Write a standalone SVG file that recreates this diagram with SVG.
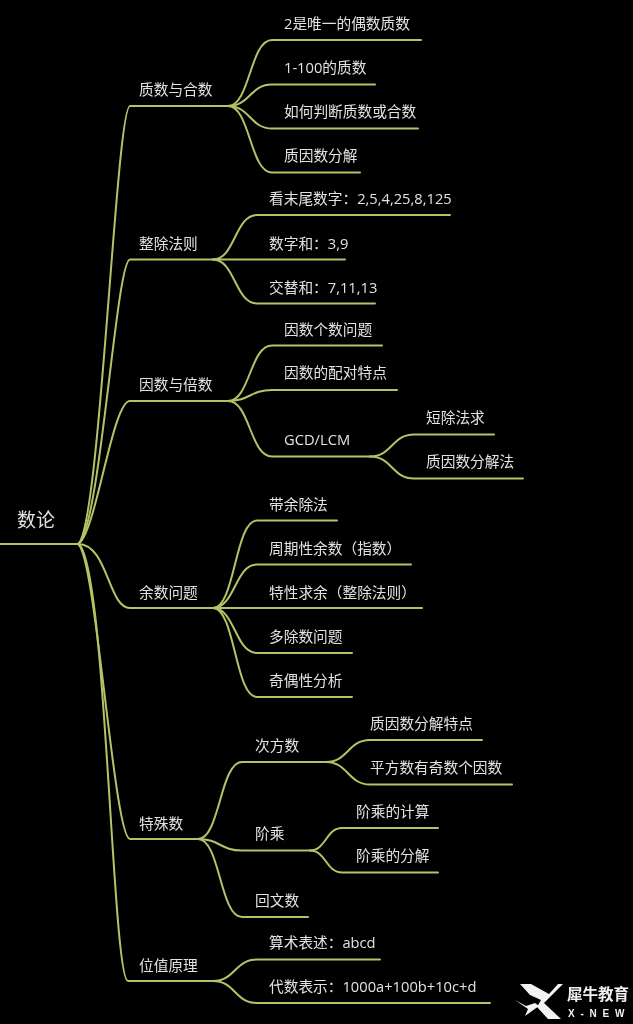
<svg xmlns="http://www.w3.org/2000/svg" width="633" height="1024" viewBox="0 0 633 1024">
<style>
.l{fill:none;stroke:#b4c368;stroke-width:2;stroke-linecap:round}
.t{font-family:"Open Sans","Noto Sans CJK SC",sans-serif;font-size:14.7px;fill:#e2e2e2}
</style>
<defs><filter id="b" x="-5%" y="-5%" width="110%" height="110%"><feGaussianBlur stdDeviation="0.45"/></filter></defs>
<rect width="633" height="1024" fill="#000"/>
<g filter="url(#b)">
<g id="connectors">
<path class="l" d="M0 544H78"/>
<path class="l" d="M78 544C100 530 116 106 130 106H228"/>
<path class="l" d="M78 544C100 532 116 259.500 130 259.500H213"/>
<path class="l" d="M78 544C96 535 112 401 130 401H228"/>
<path class="l" d="M78 544C108 544 108 608 130 608H213"/>
<path class="l" d="M78 544C96 556 114 839 130 839H198"/>
<path class="l" d="M78 544C106 556 112 981 128 981H213"/>
<path class="l" d="M228 106C250 106 250 40 272 40H421"/>
<path class="l" d="M228 106C250 106 250 84.500 272 84.500H375"/>
<path class="l" d="M228 106C250 106 250 128.500 272 128.500H418"/>
<path class="l" d="M228 106C250 106 250 172.500 272 172.500H360"/>
<path class="l" d="M213 259.500C235 259.500 235 215 257 215H450"/>
<path class="l" d="M213 259.500H345"/>
<path class="l" d="M213 259.500C235 259.500 235 303.500 257 303.500H375"/>
<path class="l" d="M228 401C250 401 250 345.500 272 345.500H382"/>
<path class="l" d="M228 401C250 401 250 390 272 390H397"/>
<path class="l" d="M228 401C250 401 250 456.500 272 456.500H370"/>
<path class="l" d="M370 456.500C392 456.500 392 434.500 414 434.500H494"/>
<path class="l" d="M370 456.500C392 456.500 392 478.500 414 478.500H523"/>
<path class="l" d="M213 608C235 608 235 520.500 257 520.500H337"/>
<path class="l" d="M213 608C235 608 235 564.500 257 564.500H411"/>
<path class="l" d="M213 608H422"/>
<path class="l" d="M213 608C235 608 235 653 257 653H352"/>
<path class="l" d="M213 608C235 608 235 697 257 697H352"/>
<path class="l" d="M198 839C220 839 220 762 242 762H326"/>
<path class="l" d="M198 839C220 839 220 850.500 242 850.500H310"/>
<path class="l" d="M198 839C220 839 220 917 242 917H308"/>
<path class="l" d="M326 762C348 762 348 740 370 740H482"/>
<path class="l" d="M326 762C348 762 348 784.500 370 784.500H512"/>
<path class="l" d="M310 850.500C326 850.500 326 828 342 828H438"/>
<path class="l" d="M310 850.500C326 850.500 326 872.500 342 872.500H438"/>
<path class="l" d="M213 981C235 981 235 959.500 257 959.500H380"/>
<path class="l" d="M213 981C235 981 235 1003 257 1003H490"/>
</g>
<g id="n-root"><text class="t" x="17" y="527" style="font-size:19px">数论</text></g>
<g id="n-a"><text class="t" x="139" y="95">质数与合数</text></g>
<g id="n-a1"><text class="t" x="284" y="29">2是唯一的偶数质数</text></g>
<g id="n-a2"><text class="t" x="284" y="73">1-100的质数</text></g>
<g id="n-a3"><text class="t" x="284" y="117">如何判断质数或合数</text></g>
<g id="n-a4"><text class="t" x="284" y="161">质因数分解</text></g>
<g id="n-b"><text class="t" x="139" y="249">整除法则</text></g>
<g id="n-b1"><text class="t" x="269" y="204">看末尾数字：2,5,4,25,8,125</text></g>
<g id="n-b2"><text class="t" x="269" y="249">数字和：3,9</text></g>
<g id="n-b3"><text class="t" x="269" y="293">交替和：7,11,13</text></g>
<g id="n-c"><text class="t" x="139" y="390">因数与倍数</text></g>
<g id="n-c1"><text class="t" x="284" y="335">因数个数问题</text></g>
<g id="n-c2"><text class="t" x="284" y="378">因数的配对特点</text></g>
<g id="n-c3"><text class="t" x="284" y="445">GCD/LCM</text></g>
<g id="n-c31"><text class="t" x="426" y="423">短除法求</text></g>
<g id="n-c32"><text class="t" x="426" y="467">质因数分解法</text></g>
<g id="n-d"><text class="t" x="139" y="598">余数问题</text></g>
<g id="n-d1"><text class="t" x="269" y="510">带余除法</text></g>
<g id="n-d2"><text class="t" x="269" y="554">周期性余数（指数）</text></g>
<g id="n-d3"><text class="t" x="269" y="598">特性求余（整除法则）</text></g>
<g id="n-d4"><text class="t" x="269" y="642">多除数问题</text></g>
<g id="n-d5"><text class="t" x="269" y="686">奇偶性分析</text></g>
<g id="n-e"><text class="t" x="139" y="829">特殊数</text></g>
<g id="n-e1"><text class="t" x="255" y="751">次方数</text></g>
<g id="n-e11"><text class="t" x="370" y="729">质因数分解特点</text></g>
<g id="n-e12"><text class="t" x="370" y="773">平方数有奇数个因数</text></g>
<g id="n-e2"><text class="t" x="255" y="839">阶乘</text></g>
<g id="n-e21"><text class="t" x="356" y="817">阶乘的计算</text></g>
<g id="n-e22"><text class="t" x="356" y="861">阶乘的分解</text></g>
<g id="n-e3"><text class="t" x="255" y="906">回文数</text></g>
<g id="n-f"><text class="t" x="139" y="971">位值原理</text></g>
<g id="n-f1"><text class="t" x="269" y="948">算术表述：abcd</text></g>
<g id="n-f2"><text class="t" x="269" y="992">代数表示：1000a+100b+10c+d</text></g>
</g>
<g id="logo" filter="url(#b)">
<path fill="#f2f2f2" d="M520 984H531L549 994L558 984H563L544 1003L561 1019H548L537 1007L541 1000L530 995Z"/>
<path fill="#f2f2f2" d="M515 1000L526 1006L535 1003L539 1006L525 1016L528 1009Z"/>
<text x="567" y="1000" style="font-family:'Noto Sans CJK SC',sans-serif;font-size:15.5px;font-weight:700;fill:#f0f0f0">犀牛教育</text>
<text x="568" y="1017" style="font-family:'Liberation Sans',sans-serif;font-size:10px;font-weight:700;fill:#f0f0f0;letter-spacing:5.8px">X-NEW</text>
</g>
</svg>
